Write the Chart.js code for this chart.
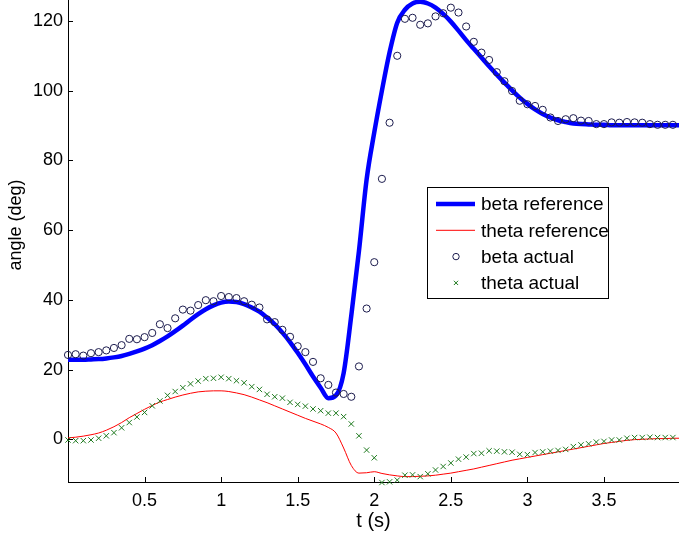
<!DOCTYPE html>
<html>
<head>
<meta charset="utf-8">
<script src="https://cdn.jsdelivr.net/npm/chart.js@4.4.0/dist/chart.umd.min.js"></script>
<style>
  html, body { margin: 0; padding: 0; background: #fff; }
  #wrap { width: 679px; height: 537px; position: relative; }
</style>
</head>
<body>
<div id="wrap"><canvas id="chart"></canvas></div>
<script>
// sample times of the measured data (s)
const tActual = [
  0, 0.05, 0.1, 0.15, 0.2, 0.25, 0.3, 0.35, 0.4, 0.45,
  0.5, 0.55, 0.6, 0.65, 0.7, 0.75, 0.8, 0.85, 0.9, 0.95,
  1.0, 1.05, 1.1, 1.15, 1.2, 1.25, 1.3, 1.35, 1.4, 1.45,
  1.5, 1.55, 1.6, 1.65, 1.7, 1.75, 1.8, 1.85, 1.9, 1.95,
  2.0, 2.05, 2.1, 2.15, 2.2, 2.25, 2.3, 2.35, 2.4, 2.45,
  2.5, 2.55, 2.6, 2.65, 2.7, 2.75, 2.8, 2.85, 2.9, 2.95,
  3.0, 3.05, 3.1, 3.15, 3.2, 3.25, 3.3, 3.35, 3.4, 3.45,
  3.5, 3.55, 3.6, 3.65, 3.7, 3.75, 3.8, 3.85, 3.9, 3.95
];
// reference trajectories use the same times plus the final one
const refT = tActual.concat([3.99]);

const betaActual = [
  24.2, 24.4, 24.0, 24.7, 25.0, 25.5, 26.2, 27.0, 28.8, 28.7,
  29.3, 30.5, 33.0, 31.9, 34.7, 37.2, 36.9, 38.5, 39.9, 39.6,
  41.1, 40.8, 40.5, 39.6, 38.6, 37.8, 34.4, 33.6, 31.4, 29.4,
  26.7, 25.0, 22.2, 17.5, 15.6, 13.4, 13.0, 12.2, 20.9, 37.5,
  50.8, 74.7, 90.8, 110.0, 120.6, 120.9, 118.9, 119.3, 121.3, 122.2,
  123.8, 122.4, 118.4, 114.0, 110.9, 108.8, 105.3, 102.7, 99.9, 97.1,
  96.1, 95.6, 94.5, 92.3, 91.3, 91.8, 92.1, 91.4, 91.3, 90.4,
  90.4, 90.9, 90.8, 91.0, 90.9, 90.8, 90.4, 90.2, 90.2, 90.2
];
const thetaActual = [
  -0.2, -0.4, -0.4, -0.2, 0.3, 1.0, 1.9, 3.3, 4.8, 6.4,
  7.7, 9.6, 11.0, 12.6, 13.7, 14.8, 15.9, 16.7, 17.4, 17.5,
  17.8, 17.4, 16.8, 16.2, 15.1, 14.3, 12.9, 12.2, 11.8, 10.6,
  10.0, 9.5, 8.7, 8.2, 7.5, 7.5, 6.5, 4.4, 1.0, -3.1,
  -5.3, -12.4, -12.2, -11.7, -10.3, -10.2, -10.7, -9.9, -8.8, -7.8,
  -6.8, -5.7, -5.1, -4.1, -4.0, -3.3, -3.4, -3.6, -3.7, -4.3,
  -4.4, -3.8, -3.6, -3.4, -3.2, -2.9, -2.1, -1.6, -1.3, -0.8,
  -0.6, -0.2, -0.2, 0.3, 0.5, 0.5, 0.6, 0.5, 0.5, 0.5
];
const betaRef = [
  22.8, 22.8, 22.8, 22.9, 23.0, 23.2, 23.5, 23.9, 24.5, 25.2,
  26.0, 27.0, 28.2, 29.5, 31.0, 32.6, 34.3, 35.9, 37.3, 38.4,
  39.2, 39.5, 39.4, 38.8, 37.8, 36.6, 34.9, 33.0, 30.6, 27.9,
  24.8, 21.5, 18.0, 14.8, 11.8, 12.6, 19.0, 35.5, 54.0, 74.5,
  88.0, 100.0, 111.0, 119.5, 123.2, 125.0, 125.5, 125.0, 123.8, 122.0,
  119.8, 117.2, 114.5, 112.0, 109.5, 107.0, 104.6, 102.3, 100.1, 98.0,
  96.2, 94.6, 93.3, 92.3, 91.5, 91.0, 90.6, 90.4, 90.3, 90.2,
  90.2, 90.1, 90.1, 90.1, 90.1, 90.1, 90.1, 90.1, 90.1, 90.1,
  90.1
];
const thetaRef = [
  0.4, 0.6, 0.9, 1.3, 1.8, 2.6, 3.6, 4.8, 6.2, 7.4,
  8.6, 9.7, 10.7, 11.4, 12.1, 12.7, 13.2, 13.6, 13.8, 13.9,
  13.9, 13.7, 13.3, 12.8, 12.1, 11.3, 10.5, 9.6, 8.7, 7.8,
  6.9, 6.0, 5.2, 4.4, 3.4, 1.8, -2.5, -7.5, -9.7, -9.6,
  -9.3, -9.8, -10.2, -10.5, -10.7, -10.7, -10.6, -10.5, -10.3, -10.0,
  -9.7, -9.3, -8.9, -8.5, -8.0, -7.5, -7.0, -6.5, -6.0, -5.6,
  -5.2, -4.8, -4.4, -4.0, -3.6, -3.2, -2.8, -2.4, -2.0, -1.6,
  -1.2, -0.9, -0.6, -0.3, -0.1, 0.0, 0.1, 0.2, 0.2, 0.3,
  0.3
];

const xTicks = [0.5, 1, 1.5, 2, 2.5, 3, 3.5];
const yTicks = [0, 20, 40, 60, 80, 100, 120];

const toPoints = (xs, ys) => ys.map((y, i) => ({ x: xs[i], y: y }));

Chart.defaults.font.family = '"Liberation Sans", Arial, Helvetica, sans-serif';
Chart.defaults.color = '#000';

// MATLAB style tick marks pointing into the axes
const innerTicks = {
  id: 'innerTicks',
  afterDraw(chart) {
    const { ctx, chartArea, scales } = chart;
    ctx.save();
    ctx.strokeStyle = '#000';
    ctx.lineWidth = 1;
    ctx.beginPath();
    scales.x.ticks.forEach(t => {
      const px = Math.round(scales.x.getPixelForValue(t.value)) + 0.5;
      ctx.moveTo(px, chartArea.bottom);
      ctx.lineTo(px, chartArea.bottom - 5);
    });
    scales.y.ticks.forEach(t => {
      const py = Math.round(scales.y.getPixelForValue(t.value)) + 0.5;
      ctx.moveTo(chartArea.left, py);
      ctx.lineTo(chartArea.left + 5, py);
    });
    ctx.stroke();
    ctx.restore();
  }
};

// the original axes run past the top of the picture, so the y label
// sits a little above the middle of the visible part
const yLabel = {
  id: 'yLabel',
  afterDraw(chart) {
    const { ctx } = chart;
    ctx.save();
    ctx.translate(16, 225);
    ctx.rotate(-Math.PI / 2);
    ctx.font = '18px "Liberation Sans", Arial, sans-serif';
    ctx.fillStyle = '#000';
    ctx.textAlign = 'center';
    ctx.textBaseline = 'middle';
    ctx.fillText(chart.options.scales.y.title.text, 0, 0);
    ctx.restore();
  }
};

// boxed legend inside the plot, like the original
const legendBox = {
  id: 'legendBox',
  afterDraw(chart) {
    const { ctx } = chart;
    const bx = 427, by = 187, bw = 181, bh = 111;
    ctx.save();
    ctx.fillStyle = '#fff';
    ctx.fillRect(bx, by, bw, bh);
    ctx.strokeStyle = '#000';
    ctx.lineWidth = 1;
    ctx.strokeRect(bx + 0.5, by + 0.5, bw, bh);
    ctx.font = '19px "Liberation Sans", Arial, sans-serif';
    ctx.textBaseline = 'middle';
    chart.data.datasets.forEach((ds, i) => {
      const y = by + 17 + i * 26.3;
      ctx.strokeStyle = ds.borderColor;
      if (ds.showLine !== false) {
        ctx.lineWidth = ds.borderWidth;
        ctx.beginPath();
        ctx.moveTo(bx + 9, y);
        ctx.lineTo(bx + 48, y);
        ctx.stroke();
      } else {
        ctx.lineWidth = 1;
        ctx.fillStyle = 'rgba(0,0,0,0)';
        Chart.helpers.drawPoint(ctx, { pointStyle: ds.pointStyle, radius: ds.legendRadius, rotation: 0, borderWidth: 1 }, bx + 29, y);
      }
      ctx.fillStyle = '#000';
      ctx.fillText(ds.label, bx + 54, y + 1);
    });
    ctx.restore();
  }
};

const ctx = document.getElementById('chart').getContext('2d');
new Chart(ctx, {
  type: 'scatter',
  data: {
    datasets: [
      {
        label: 'beta reference',
        data: toPoints(refT, betaRef),
        showLine: true,
        borderColor: '#0000ff',
        borderWidth: 4.5,
        pointRadius: 0,
        cubicInterpolationMode: 'monotone',
        order: 4
      },
      {
        label: 'theta reference',
        data: toPoints(refT, thetaRef),
        showLine: true,
        borderColor: '#ff0000',
        borderWidth: 1,
        pointRadius: 0,
        cubicInterpolationMode: 'monotone',
        order: 3
      },
      {
        label: 'beta actual',
        data: toPoints(tActual, betaActual),
        showLine: false,
        pointStyle: 'circle',
        pointRadius: 3.6,
        legendRadius: 3.2,
        borderColor: '#1c1c4e',
        backgroundColor: 'rgba(0,0,0,0)',
        borderWidth: 1,
        clip: false,
        order: 2
      },
      {
        label: 'theta actual',
        data: toPoints(tActual, thetaActual),
        showLine: false,
        pointStyle: 'crossRot',
        pointRadius: 3.8,
        legendRadius: 3,
        borderColor: '#1f7a1f',
        backgroundColor: '#1f7a1f',
        borderWidth: 1,
        clip: false,
        order: 1
      }
    ]
  },
  options: {
    responsive: true,
    maintainAspectRatio: false,
    animation: false,
    layout: { padding: 0, autoPadding: false },
    plugins: {
      legend: { display: false },
      tooltip: { enabled: false }
    },
    scales: {
      x: {
        type: 'linear',
        min: 0,
        max: 3.99,
        afterBuildTicks: s => { s.ticks = xTicks.map(v => ({ value: v })); },
        afterFit: s => { s.height = 55; s.paddingLeft = 0; s.paddingRight = 0; },
        grid: { display: true, drawOnChartArea: false, drawTicks: false },
        border: { display: true, color: '#000', width: 1 },
        ticks: { font: { size: 18 }, padding: 8, color: '#000', maxRotation: 0, callback: v => String(v) },
        title: { display: true, text: 't (s)', font: { size: 20 }, color: '#000', padding: { top: 0, bottom: 4 } }
      },
      y: {
        type: 'linear',
        min: -12.25,
        max: 126,
        afterBuildTicks: s => { s.ticks = yTicks.map(v => ({ value: v })); },
        afterFit: s => { s.width = 68; s.paddingTop = 0; s.paddingBottom = 0; },
        grid: { display: true, drawOnChartArea: false, drawTicks: false },
        border: { display: true, color: '#000', width: 1 },
        ticks: { font: { size: 18 }, padding: 5, color: '#000', callback: v => String(v) },
        title: { display: false, text: 'angle (deg)' }
      }
    }
  },
  plugins: [innerTicks, yLabel, legendBox]
});
</script>
</body>
</html>
